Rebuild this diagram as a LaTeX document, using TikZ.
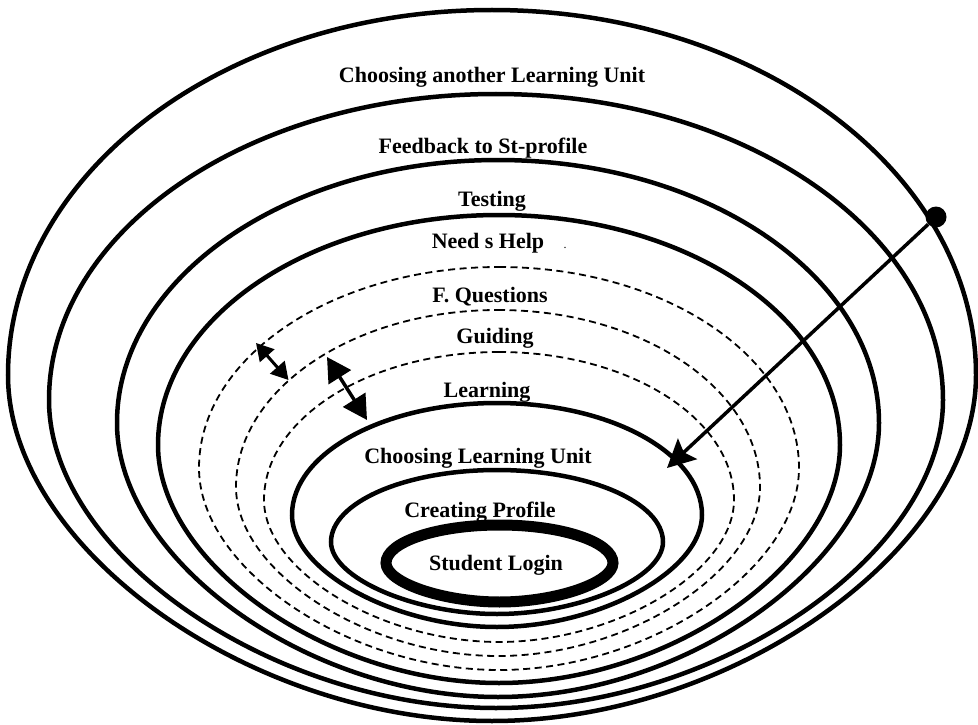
\documentclass[tikz,border=0pt]{standalone}
\usepackage{fontspec}
\setmainfont{Liberation Serif}
\usetikzlibrary{arrows.meta}
% closed egg-shaped ring: style, cx, top, widest y, bottom, half width
\newcommand\eggcurve[6]{%
  \draw[#1] (#2,#3)
    .. controls ({#2+0.5523*#6},#3) and ({#2+#6},{#4-0.5523*(#4-#3)}) .. ({#2+#6},#4)
    .. controls ({#2+#6},{#4+0.5*(#5-#4)}) and ({#2+0.5*#6},#5) .. (#2,#5)
    .. controls ({#2-0.5*#6},#5) and ({#2-#6},{#4+0.5*(#5-#4)}) .. ({#2-#6},#4)
    .. controls ({#2-#6},{#4-0.5523*(#4-#3)}) and ({#2-0.5523*#6},#3) .. cycle;}
\tikzset{
  ring/.style={line width=4.5pt},
  dashring/.style={line width=1.8pt, dash pattern=on 7pt off 4.5pt},
  loginring/.style={line width=11pt},
  lab/.style={font=\fontsize{22}{26}\selectfont\bfseries, anchor=base, inner sep=0pt},
  speck/.style={font=\fontsize{12}{14}\selectfont, anchor=base, inner sep=0pt},
  dotnode/.style={circle, fill=black, inner sep=0pt, minimum size=21pt},
  longarrow/.style={line width=3.5pt, -{Stealth[length=28pt,width=28pt,inset=5pt]}},
  smallboth/.style={line width=3pt, {Triangle[length=17pt,width=19pt]}-{Triangle[length=17pt,width=19pt]}},
  bigboth/.style={line width=3.5pt, {Triangle[length=24pt,width=26pt]}-{Triangle[length=24pt,width=26pt]}}
}
\begin{document}
\begin{tikzpicture}[x=1pt,y=-1pt]
\useasboundingbox (0,0) rectangle (978,725);
% rings, outermost first
\eggcurve{ring}{492}{10}{375}{721}{484}
\eggcurve{ring}{496}{94}{400}{708}{447}
\eggcurve{ring}{498}{160}{423}{697}{381}
\eggcurve{ring}{499}{215}{445}{683}{341}
\eggcurve{dashring}{499}{267}{468}{670}{300}
\eggcurve{dashring}{498}{310}{487}{656}{262}
\eggcurve{dashring}{499}{352}{500}{642}{235}
\eggcurve{ring}{497}{403}{515}{627}{205}
\eggcurve{ring}{497}{470}{542}{614}{166}
\eggcurve{loginring}{499.5}{525}{563}{602}{113.5}
% labels
\node[lab] (l1) at (492,83) {Choosing another Learning Unit};
\node[lab] (l2) at (483,153) {Feedback to St-profile};
\node[lab] (l3) at (492,206) {Testing};
\node[lab] (l4) at (488,248) {Need s Help};
\node[speck] (l4dot) at (565,248) {.};
\node[lab] (l5) at (490,302) {F. Questions};
\node[lab] (l6) at (495,343) {Guiding};
\node[lab] (l7) at (487,397) {Learning};
\node[lab] (l8) at (478,463) {Choosing Learning Unit};
\node[lab] (l9) at (480,517) {Creating Profile};
\node[lab] (l10) at (496,570) {Student Login};
% long arrow
\node[dotnode] (dot) at (936,217) {};
\coordinate (tip) at (667,468);
\draw[longarrow] (dot) -- (tip);
% double arrows
\coordinate (a1) at (256,343);
\coordinate (b1) at (288.5,380);
\draw[smallboth] (a1) -- (b1);
\coordinate (a2) at (327,357);
\coordinate (b2) at (367,420);
\draw[bigboth] (a2) -- (b2);
\end{tikzpicture}
\end{document}
